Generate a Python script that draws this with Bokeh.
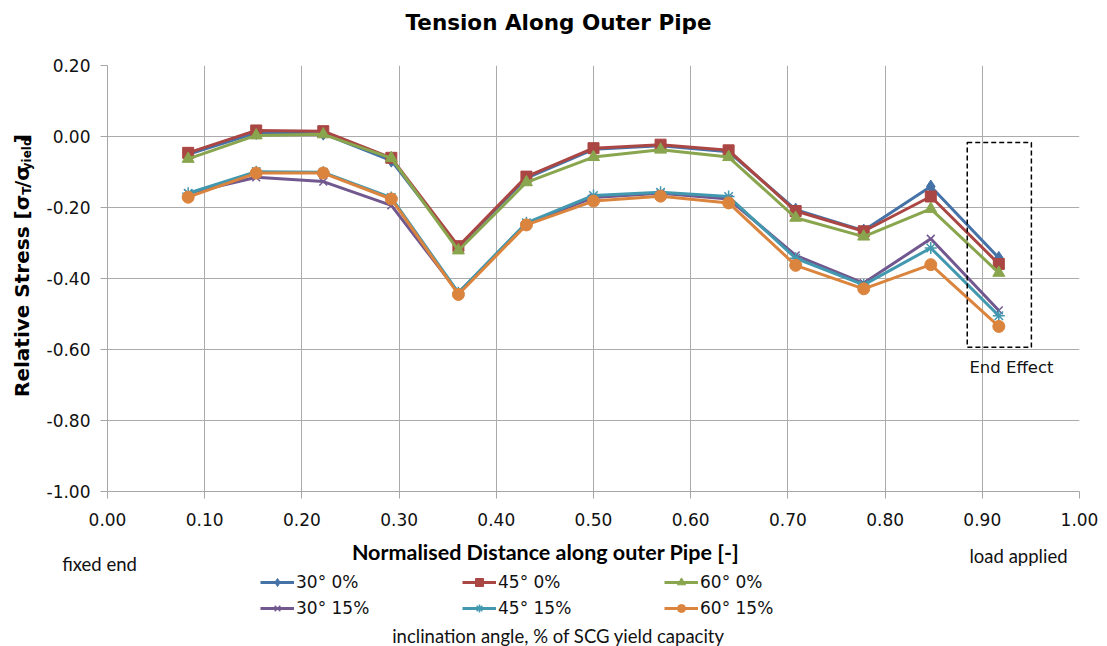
from bokeh.plotting import figure
from bokeh.layouts import column, row
from bokeh.models import (Label, BoxAnnotation, Legend, LegendItem, FixedTicker,
                          ColumnDataSource)
from bokeh.embed import file_html
from bokeh.resources import INLINE
import math

# ---- data -------------------------------------------------------------
distance = [0.083, 0.153, 0.222, 0.292, 0.361, 0.431, 0.500,
            0.569, 0.639, 0.708, 0.778, 0.847, 0.917]

stress_30_0 = [-0.050, 0.010, 0.008, -0.068, -0.312, -0.117, -0.036,
               -0.026, -0.043, -0.206, -0.265, -0.141, -0.342]
stress_45_0 = [-0.046, 0.017, 0.015, -0.060, -0.309, -0.113, -0.033,
               -0.023, -0.039, -0.210, -0.267, -0.169, -0.359]
stress_60_0 = [-0.063, 0.003, 0.006, -0.061, -0.321, -0.129, -0.058,
               -0.037, -0.058, -0.229, -0.282, -0.204, -0.384]
stress_30_15 = [-0.160, -0.115, -0.127, -0.194, -0.440, -0.245, -0.172,
                -0.160, -0.176, -0.335, -0.413, -0.288, -0.490]
stress_45_15 = [-0.160, -0.099, -0.101, -0.172, -0.440, -0.243, -0.166,
                -0.157, -0.169, -0.343, -0.418, -0.314, -0.505]
stress_60_15 = [-0.171, -0.103, -0.103, -0.176, -0.445, -0.249, -0.182,
                -0.168, -0.187, -0.363, -0.429, -0.361, -0.535]

series_names = ["30° 0%", "45° 0%", "60° 0%", "30° 15%", "45° 15%", "60° 15%"]
series_values = [stress_30_0, stress_45_0, stress_60_0,
                 stress_30_15, stress_45_15, stress_60_15]

x_ticks = [0.0, 0.1, 0.2, 0.3, 0.4, 0.5, 0.6, 0.7, 0.8, 0.9, 1.0]
x_tick_labels = ["0.00", "0.10", "0.20", "0.30", "0.40", "0.50",
                 "0.60", "0.70", "0.80", "0.90", "1.00"]
y_ticks = [0.2, 0.0, -0.2, -0.4, -0.6, -0.8, -1.0]
y_tick_labels = ["0.20", "0.00", "-0.20", "-0.40", "-0.60", "-0.80", "-1.00"]

# end-effect region (data units)
end_box = dict(left=0.8845, right=0.9505, top=-0.017, bottom=-0.594)

# ---- styling ----------------------------------------------------------
colors = ["#4572A7", "#AA4643", "#89A54E", "#71588F", "#4198AF", "#DB843D"]
markers = ["diamond", "square", "triangle", "x", "asterisk", "circle"]
marker_sizes = [13, 11, 12, 11, 12, 12]

SANS = "DejaVu Sans"
NARROW = "Lato"
INK = "#111111"

W, H = 1107, 646
TOP_H = 45          # title strip
MID_H = 491         # plot row
BOT_H = H - TOP_H - MID_H
LEFT_W = 40         # y-title strip


def strip(x0, y0, w, h):
    """Blank figure whose data coordinates equal page pixels."""
    f = figure(width=w, height=h, output_backend="svg", toolbar_location=None,
               x_range=(x0, x0 + w), y_range=(y0 + h, y0),
               min_border=0, min_border_left=0, min_border_right=0,
               min_border_top=0, min_border_bottom=0)
    f.axis.visible = False
    f.grid.visible = False
    f.outline_line_color = None
    f.background_fill_color = "white"
    f.border_fill_color = "white"
    return f


def put(f, txt, px, py, font, size, bold=False, align="center", angle=0.0,
        color=INK):
    f.add_layout(Label(x=px, y=py, text=txt, text_font=font,
                       text_font_size=f"{size}px",
                       text_font_style="bold" if bold else "normal",
                       text_align=align, text_baseline="middle",
                       angle=angle, text_color=color))


# ---- main chart -------------------------------------------------------
p = figure(width=W - LEFT_W, height=MID_H, output_backend="svg",
           toolbar_location=None, x_range=(0, 1), y_range=(-1.0, 0.2),
           min_border_left=67, min_border_right=28,
           min_border_top=20, min_border_bottom=45)
p.outline_line_color = None
p.background_fill_color = "white"
p.border_fill_color = "white"

p.xaxis.ticker = FixedTicker(ticks=x_ticks)
p.yaxis.ticker = FixedTicker(ticks=y_ticks)
p.xaxis.major_label_overrides = dict(zip(x_ticks, x_tick_labels))
p.yaxis.major_label_overrides = dict(zip(y_ticks, y_tick_labels))

for ax in (p.xaxis[0], p.yaxis[0]):
    ax.axis_line_color = "#A6A6A6"
    ax.major_tick_line_color = "#A6A6A6"
    ax.major_tick_in = 0
    ax.major_tick_out = 7
    ax.minor_tick_line_color = None
    ax.major_label_text_font = SANS
    ax.major_label_text_font_size = "17px"
    ax.major_label_text_color = INK
p.yaxis.major_label_standoff = 10
p.xaxis.major_label_standoff = 14

p.grid.grid_line_color = "#ABABAB"
p.grid.grid_line_width = 1

for name, vals, col, mk, ms in zip(series_names, series_values, colors,
                                   markers, marker_sizes):
    src = ColumnDataSource(dict(x=distance, y=vals))
    p.line("x", "y", source=src, line_color=col, line_width=3)
    p.scatter("x", "y", source=src, marker=mk, size=ms,
              fill_color=col, line_color=col,
              line_width=1.5 if mk in ("x", "asterisk") else 1)

p.add_layout(BoxAnnotation(left=end_box["left"], right=end_box["right"],
                           top=end_box["top"], bottom=end_box["bottom"],
                           fill_alpha=0, line_color="black", line_alpha=1,
                           line_width=1.5, line_dash="5 3"))
p.add_layout(Label(x=0.930, y=-0.651, text="End Effect", text_font=SANS,
                   text_font_size="16.5px", text_align="center",
                   text_baseline="middle", text_color=INK))

# ---- title strip ------------------------------------------------------
top = strip(0, 0, W, TOP_H)
put(top, "Tension Along Outer Pipe", 558, 22, SANS, 21.5, bold=True,
    color="black")

# ---- y-title strip (rotated, with subscripts) ------------------------
side = strip(0, TOP_H, LEFT_W, MID_H)
# approximate DejaVu Sans Bold advance widths (em)
adv = {"[": 0.457, "]": 0.457, "σ": 0.710, "/": 0.365,
       "T": 0.682, "y": 0.652, "i": 0.343, "e": 0.678, "l": 0.343,
       "d": 0.716}


def width(s, size):
    return 0.95 * sum(adv.get(c, 0.6) for c in s) * size


# main part ends at the junction; the subscripted tail follows it upward
junction_y, label_x = 194, 21
put(side, "Relative Stress [σ", label_x, junction_y, SANS, 20, bold=True,
    align="right", angle=math.pi / 2, color="black")
tail = [("T", 12, 5), ("/σ", 20, 0), ("yield", 12, 5), ("]", 20, 0)]
ypos = junction_y
for t, s, shift in tail:
    put(side, t, label_x + shift, ypos, SANS, s, bold=True, align="left",
        angle=math.pi / 2, color="black")
    ypos -= width(t, s)

# ---- bottom strip: axis title, end notes, legend, caption -------------
bot = strip(0, TOP_H + MID_H, W, BOT_H)
put(bot, "Normalised Distance along outer Pipe [-]", 545, 551, NARROW, 21.5,
    bold=True, color="black")
put(bot, "fixed end", 99, 563, NARROW, 18.5)
put(bot, "load applied", 1018, 555, NARROW, 18.5)
put(bot, "inclination angle, % of SCG yield capacity", 558, 635, NARROW, 18.5)

# legend swatches: renderers kept off-canvas, only their styles are used
swatch = {}
for name, col, mk, ms in zip(series_names, colors, markers, marker_sizes):
    ln = bot.line(x=[-60, -40], y=[700, 700], line_color=col, line_width=3)
    sc = bot.scatter(x=[-50], y=[700], marker=mk, size=ms, fill_color=col,
                     line_color=col,
                     line_width=1.5 if mk in ("x", "asterisk") else 1)
    swatch[name] = LegendItem(label=name, renderers=[ln, sc])

# columns fill top-to-bottom: 0% series on the first row, 15% on the second
legend_order = ["30° 0%", "30° 15%", "45° 0%", "45° 15%", "60° 0%", "60° 15%"]
legend = Legend(items=[swatch[n] for n in legend_order], ncols=3,
                location=(260, 28), padding=0, margin=0, spacing=6,
                glyph_width=34, glyph_height=20, label_height=20,
                label_width=160, label_standoff=2,
                label_text_font=SANS, label_text_font_size="17px",
                label_text_color=INK,
                border_line_color=None, background_fill_alpha=0)
bot.add_layout(legend, "center")

page = column(top, row(side, p, spacing=0), bot, spacing=0)
open("out.html", "w").write(file_html(page, INLINE))
